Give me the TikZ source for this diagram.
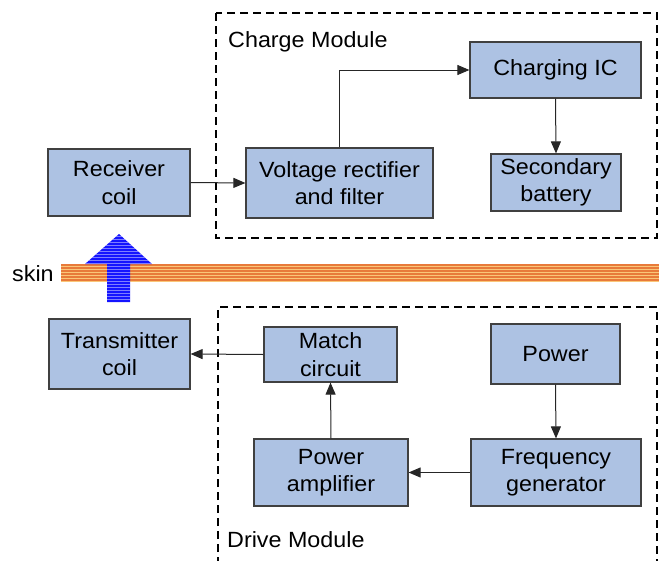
\documentclass[tikz,border=0pt]{standalone}
\usepackage{fontspec}
\setmainfont[FakeStretch=1.06]{Liberation Sans}
\usetikzlibrary{arrows.meta}
\definecolor{boxfill}{RGB}{173,194,227}
\definecolor{skindark}{RGB}{232,122,58}
\definecolor{skinlight}{RGB}{250,198,120}
\definecolor{arrowblue}{RGB}{20,20,255}
\begin{document}
\begin{tikzpicture}[x=1pt,y=-1pt,
  box/.style={draw=black!75, line width=1.2pt, fill=boxfill, inner sep=0pt, align=center, font=\fontsize{22}{27.5}\selectfont},
  conn/.style={draw=black!85, line width=1pt, -{Triangle[length=12pt,width=10pt]}},
  module/.style={draw=black, line width=2.3pt, dash pattern=on 8pt off 5pt},
  lbl/.style={font=\fontsize{22}{27.5}\selectfont, inner sep=0pt}]
\useasboundingbox (0,0) rectangle (659,560);

% modules
\draw[module] (216,13) rectangle (657,238);
\draw[module] (218,565) -- (218,307) -- (657,307) -- (657,565);
\node[lbl, anchor=base west] (cmlabel) at (228,47) {Charge Module};
\node[lbl, anchor=base west] (dmlabel) at (227,547) {Drive Module};

% boxes
\node[box, minimum width=142pt, minimum height=67pt] (rc) at (119,182.5) {Receiver\\coil};
\node[box, minimum width=187pt, minimum height=70pt] (vr) at (339.5,183) {Voltage rectifier\\and filter};
\node[box, minimum width=171pt, minimum height=56pt] (cic) at (555.5,70) {Charging IC};
\node[box, minimum width=130pt, minimum height=57pt] (sb) at (556,182.5) {Secondary\\battery};
\node[box, minimum width=141pt, minimum height=70pt] (tc) at (119.5,354) {Transmitter\\coil};
\node[box, minimum width=133pt, minimum height=55pt] (mc) at (330.5,354.5) {Match\\circuit};
\node[box, minimum width=129pt, minimum height=60pt] (pw) at (555.5,354) {Power};
\node[box, minimum width=154pt, minimum height=67pt] (pa) at (331,472.5) {Power\\amplifier};
\node[box, minimum width=170pt, minimum height=67pt] (fg) at (556,472.5) {Frequency\\generator};

% connectors
\draw[conn] (rc.east) -- (vr.west);
\draw[conn] (vr.north) |- (cic.west);
\draw[conn] (cic.south) -- (sb.north);
\draw[conn] (mc.west) -- (tc.east);
\draw[conn] (pa.north) -- (mc.south);
\draw[conn] (pw.south) -- (fg.north);
\draw[conn] (fg.west) -- (pa.east);

% skin
\node[lbl, anchor=base west] (skinlabel) at (12,281) {skin};
\foreach \i in {0,...,5} {
  \fill[skindark] (61,{264+3*\i}) rectangle (659,{265.5+3*\i});
  \fill[skinlight] (61,{265.5+3*\i}) rectangle (659,{267+3*\i});
}

% blue arrow
\begin{scope}
  \clip (107,302) -- (107,264) -- (85,264) -- (119,234) -- (152,264) -- (130,264) -- (130,302) -- cycle;
  \fill[arrowblue] (80,230) rectangle (160,305);
  \foreach \j in {0,...,24} {
    \fill[white, opacity=0.45] (80,{235.5+3*\j}) rectangle (160,{236.5+3*\j});
  }
\end{scope}
\end{tikzpicture}
\end{document}
